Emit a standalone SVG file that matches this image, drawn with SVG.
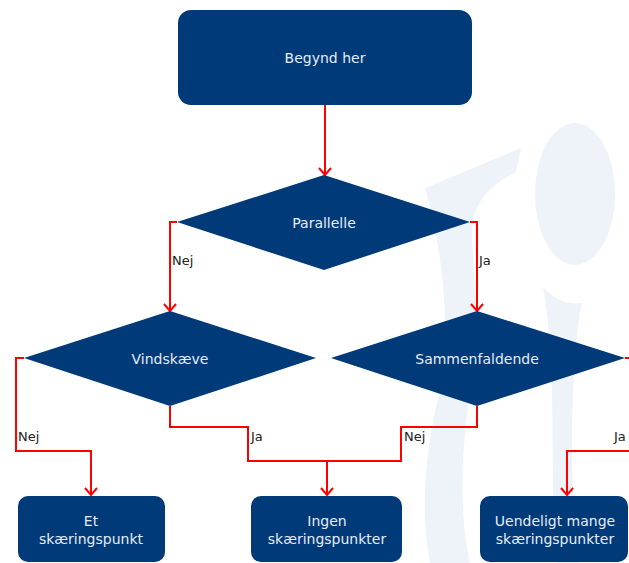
<svg xmlns="http://www.w3.org/2000/svg" width="629" height="563" viewBox="0 0 629 563">
  <defs>
    <style>
      .node { fill: #003a78; }
      .ntext { font-family: "DejaVu Sans", Verdana, sans-serif; font-size: 14px; fill: #e6ecf6; text-anchor: middle; }
      .conn { fill: none; stroke: #ff0000; stroke-width: 2; }
      .lbl { font-family: "DejaVu Sans", Verdana, sans-serif; font-size: 13px; fill: #222222; }
      .wm { fill: #eef2f9; }
    </style>
    <marker id="arrow" markerWidth="12" markerHeight="14" refX="9" refY="7" orient="auto" markerUnits="userSpaceOnUse" viewBox="0 0 12 14">
      <path d="M2,1 L9,7 L2,13" fill="none" stroke="#ff0000" stroke-width="2"/>
    </marker>
  </defs>
  <rect width="629" height="563" fill="#ffffff"/>

  <g id="watermark">
    <ellipse class="wm" cx="575" cy="194" rx="40" ry="71"/>
    <path class="wm" d="M425,188 L521,148 L516,172 C488,186 470,205 472,240 C475,290 478,330 470,390 C462,450 458,510 470,563 L430,563 C420,510 425,450 440,390 C450,330 445,260 425,188 Z"/>
    <path class="wm" d="M543,287 C555,300 568,305 582,303 C576,330 573,380 572,430 C571,480 575,530 580,563 L556,563 C552,500 553,440 552,390 C551,350 548,315 543,287 Z"/>
  </g>

  <g id="connectors">
    <path class="conn" d="M325,105 V175" marker-end="url(#arrow)"/>
    <path class="conn" d="M177,222 H170 V311" marker-end="url(#arrow)"/>
    <path class="conn" d="M470,222 H477 V311" marker-end="url(#arrow)"/>
    <path class="conn" d="M24,358 H16 V451 H91 V495" marker-end="url(#arrow)"/>
    <path class="conn" d="M170,406 V427 H248 V461 H401 V427 H477 V406"/>
    <path class="conn" d="M327,461 V495" marker-end="url(#arrow)"/>
    <path class="conn" d="M625,358 H632"/>
    <path class="conn" d="M632,451 H567 V495" marker-end="url(#arrow)"/>
    <text class="lbl" x="172" y="265">Nej</text>
    <text class="lbl" x="479" y="265">Ja</text>
    <text class="lbl" x="18" y="441">Nej</text>
    <text class="lbl" x="251" y="441">Ja</text>
    <text class="lbl" x="404" y="441">Nej</text>
    <text class="lbl" x="614" y="441">Ja</text>
  </g>

  <g id="start">
    <rect class="node" x="178" y="10" width="294" height="95" rx="13"/>
    <text class="ntext" x="325" y="63">Begynd her</text>
  </g>
  <g id="parallelle">
    <polygon class="node" points="324,175 470,222 324,270 177,222"/>
    <text class="ntext" x="324" y="228">Parallelle</text>
  </g>
  <g id="vindskaeve">
    <polygon class="node" points="170,311 316,358 170,406 24,358"/>
    <text class="ntext" x="170" y="364">Vindskæve</text>
  </g>
  <g id="sammenfaldende">
    <polygon class="node" points="477,311 625,358 477,406 331,358"/>
    <text class="ntext" x="477" y="364">Sammenfaldende</text>
  </g>
  <g id="et">
    <rect class="node" x="18" y="496" width="147" height="66" rx="10"/>
    <text class="ntext" x="91" y="526">Et</text>
    <text class="ntext" x="91" y="544">skæringspunkt</text>
  </g>
  <g id="ingen">
    <rect class="node" x="251" y="496" width="151" height="66" rx="10"/>
    <text class="ntext" x="327" y="526">Ingen</text>
    <text class="ntext" x="327" y="544">skæringspunkter</text>
  </g>
  <g id="uendeligt">
    <rect class="node" x="480" y="496" width="148" height="66" rx="10"/>
    <text class="ntext" x="555" y="526">Uendeligt mange</text>
    <text class="ntext" x="555" y="544">skæringspunkter</text>
  </g>
</svg>
